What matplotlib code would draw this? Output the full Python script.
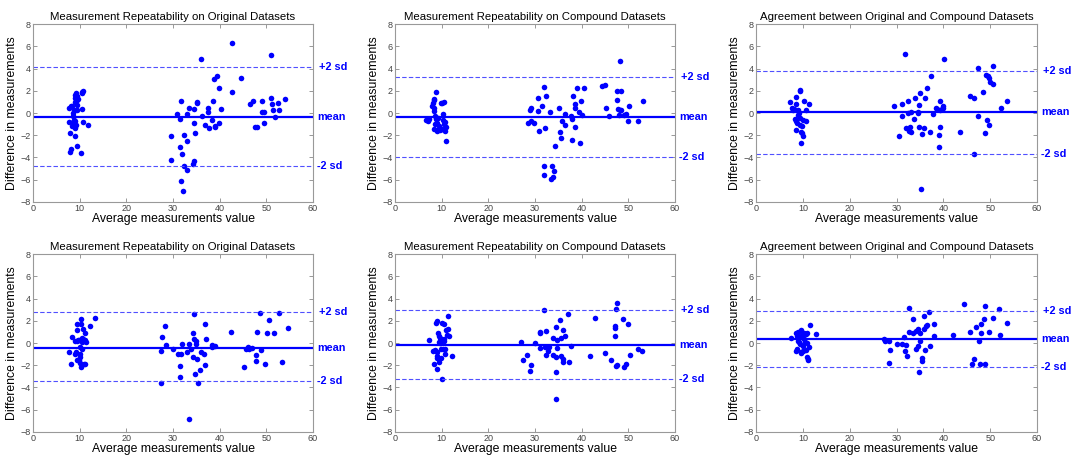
import matplotlib
matplotlib.use("Agg")
import matplotlib.pyplot as plt

plt.rcParams['font.family'] = ['Liberation Sans', 'DejaVu Sans']

titles = ["Measurement Repeatability on Original Datasets",
          "Measurement Repeatability on Compound Datasets",
          "Agreement between Original and Compound Datasets",
          "Measurement Repeatability on Original Datasets",
          "Measurement Repeatability on Compound Datasets",
          "Agreement between Original and Compound Datasets"]

# Panel 1 (top left)
p1_x = [8.1, 8.4, 7.7, 9.1, 9.1, 9.0, 9.2, 9.4, 9.6, 9.4, 10.4, 10.6, 10.7, 10.4, 9.4, 8.7, 8.5,
        7.7, 8.6, 9.0, 10.7, 11.7, 8.4, 9.0, 9.2, 7.9, 8.9, 8.2, 8.0, 9.4, 10.3, 8.6, 8.8, 9.4,
        29.6, 29.6, 30.9, 31.4, 31.8, 31.4, 31.9, 31.8, 32.2, 32.4, 32.4, 33.0, 33.0, 32.9, 33.4,
        34.6, 34.6, 34.7, 34.3, 34.6, 35.1, 35.1, 35.9, 36.2, 36.9, 37.5, 37.6, 37.7, 38.3, 38.6,
        38.7, 38.9, 39.0, 39.4, 39.8, 39.9, 40.3, 42.6, 42.7, 44.6,
        46.4, 47.1, 47.5, 48.1, 49.1, 49.1, 49.4, 49.5, 50.9, 51.1, 51.3, 51.4, 51.9, 52.6, 52.7, 54.1]
p1_y = [0.6, 0.6, 0.5, 1.0, 1.4, 1.6, 1.8, 1.2, 1.3, 1.5, 1.8, 1.9, 1.95, 0.35, 0.3, 0.3, 0.0,
        -0.85, -0.8, -0.7, -0.77, -1.07, -1.2, -1.35, -1.1, -1.8, -2.05, -3.25, -3.5, -3.0, -3.6, -0.3, -0.6, 0.7,
        -2.05, -4.25, -0.1, -0.5, 1.05, -3.1, -3.7, -6.15, -7.0, -2.0, -4.8, -2.5, -5.15, -0.1, 0.5,
        0.4, -0.9, -1.8, -4.6, -4.3, 1.0, 0.9, 4.9, -0.25, -1.05, 0.5, 0.05, -1.35, -0.6, 1.1,
        3.1, -1.15, -1.3, 3.3, 2.3, -0.9, 0.4, 1.9, 6.3, 3.2,
        0.85, 1.1, -1.3, -1.25, 1.1, 0.1, 0.1, -0.9, 1.4, 5.2, 0.8, 0.25, -0.4, 0.95, 0.3, 1.25]

# Panel 2 (top middle)
p2_x = [6.6, 7.0, 7.3, 7.9, 8.1, 8.3, 8.4, 8.3, 8.4, 8.7, 8.6, 8.8, 8.4, 8.9, 9.1, 9.3, 9.5, 9.7,
        9.9, 10.1, 10.3, 10.6, 10.2, 10.4, 10.0, 10.8, 10.9, 10.7, 10.9, 9.1, 8.6,
        28.9, 29.1, 28.6, 29.2, 29.8, 30.7, 30.9, 30.7, 31.4, 31.9, 31.9, 32.0, 32.4, 32.1, 33.2,
        33.6, 33.4, 33.8, 34.1, 34.2, 35.1, 35.4, 35.5, 35.7, 36.4, 36.4, 37.7, 37.9, 37.9, 38.2,
        38.6, 38.6, 38.6, 39.1, 39.5, 39.6, 39.9, 40.1, 40.6,
        44.3, 44.9, 45.3, 45.8, 47.5, 47.6, 47.7, 48.2, 48.2, 48.4, 48.5, 48.1, 49.0, 49.5, 49.9,
        50.1, 52.1, 53.1]
p2_y = [-0.6, -0.7, -0.5, 0.65, 0.9, 1.2, 1.3, 0.5, 0.15, 1.9, -0.3, -0.55, -1.4, -1.5, -0.9,
        -0.45, -1.2, -1.55, 0.9, 0.95, -0.1, 1.0, -0.6, -1.0, -1.4, -0.8, -1.3, -1.6, -2.55, -1.6, -1.0,
        0.25, 0.5, -0.9, -0.7, -0.9, 1.4, -1.6, 0.2, 0.65, -4.8, -5.6, 2.35, 1.55, -1.35, 0.1,
        -4.8, -5.95, -5.75, -5.2, -2.95, 0.45, -1.75, -2.25, -0.75, -0.1, -1.05, -0.3, -0.5, -2.4, 1.5,
        0.8, 0.5, -1.3, 2.25, 0.1, -2.7, 1.1, -0.15, 2.25,
        2.4, 2.55, 0.45, -0.3, 1.95, 1.2, 0.35, 4.7, 0.3, 2.0, 0.25, -0.15, -0.2, -0.1, -0.75,
        0.6, -0.75, 1.1]

# Panel 3 (top right)
p3_x = [7.3, 7.7, 8.2, 8.5, 8.6, 8.3, 8.5, 8.7, 8.5, 8.9, 9.2, 9.5, 9.5, 9.3, 9.5, 9.6, 9.7, 9.9,
        9.95, 9.9, 10.3, 10.6, 10.6, 11.4, 10.1, 8.0, 9.0,
        29.4, 30.6, 31.1, 31.2, 31.9, 32.1, 32.4, 32.4, 32.6, 32.9, 33.1, 33.2, 33.7, 33.9, 34.5,
        34.6, 34.7, 34.9, 35.0, 35.5, 35.3, 35.9, 36.1, 36.6, 37.1, 37.3, 37.7, 38.4, 38.7, 39.0,
        39.1, 39.2, 39.3, 39.3, 39.7, 40.0, 40.0, 40.2,
        43.5, 45.8, 46.5, 46.5, 47.3, 47.5, 48.5, 49.0, 49.2, 49.5, 49.7, 49.3, 49.7, 49.9, 50.5,
        50.6, 52.4, 53.5]
p3_y = [1.0, 0.5, 0.35, 0.8, 1.45, -0.5, -0.7, -0.9, -1.55, 0.3, 0.0, 1.95, 2.05, -0.45, -1.05,
        -2.7, -1.7, -1.8, -2.1, -1.2, 1.05, 0.25, -0.7, 0.8, -0.6, 0.3, -0.2,
        0.65, -2.1, 0.8, -0.3, 5.35, -1.35, 1.05, 0.0, -1.6, -1.3, 0.1, -1.75, -0.55, 1.35, 0.0,
        0.1, -1.25, 0.75, 1.8, -1.9, -6.85, -1.35, 1.4, 2.25, -1.7, 3.3, -0.1, 0.45, 0.4, -3.05,
        -1.95, -1.25, 1.05, 0.3, 0.4, 0.5, 0.65, 4.9,
        -1.75, 1.5, 1.4, -3.7, 4.1, -0.25, 1.9, -1.8, 3.45, 3.3, 3.15, -0.6, -1.1, 2.8, 4.25,
        2.6, 0.45, 1.05]

# Panel 4 (bottom left)
p4_x = [7.7, 8.1, 8.3, 8.9, 9.1, 9.3, 9.4, 9.5, 9.5, 9.4, 9.7, 9.9, 10.0, 10.0, 10.1, 10.1, 10.2,
        10.3, 10.3, 10.4, 10.4, 10.6, 10.7, 10.8, 10.9, 11.1, 11.1, 11.1, 11.3, 12.3, 13.2, 9.8,
        27.4, 27.5, 27.7, 28.3, 28.6, 29.9, 31.1, 31.6, 31.6, 31.8, 31.9, 33.0, 33.4, 33.8, 33.4,
        34.3, 34.3, 34.6, 34.6, 34.9, 35.0, 34.8, 35.1, 35.4, 35.7, 36.1, 36.6, 36.9, 36.9, 37.1,
        38.4, 38.4, 38.9, 42.4,
        45.3, 45.7, 46.1, 46.3, 46.9, 47.7, 47.7, 47.9, 48.6, 48.8, 49.7, 50.1, 50.5, 51.6, 52.7,
        53.4, 54.6]
p4_y = [-0.85, -1.9, 0.55, 0.2, -0.95, -0.8, 0.2, 1.7, 1.15, -1.55, 0.25, -1.55, -0.4, -1.0, -1.25,
        -1.8, 2.15, 1.7, -2.2, 0.1, -0.5, 0.45, 1.25, 0.35, -1.9, 0.95, -1.9, 0.25, 0.1, 1.5, 2.3, 0.3,
        -3.6, -0.75, 0.55, 1.5, -0.2, -0.5, -0.95, -2.1, -3.1, -1.0, -0.1, -0.8, -0.05, -0.5, -6.85,
        0.95, -1.3, 2.6, 0.35, 0.2, -0.1, -2.8, -1.45, -3.6, -2.45, -0.85, -1.0, 1.7, -2.0, 0.35,
        -0.15, -0.4, -0.3, 1.0,
        -2.15, -0.5, -0.35, -0.55, -0.45, -1.1, -1.65, 1.0, 2.75, -0.6, -1.85, 0.9, 2.1, 0.9, 2.7,
        -1.7, 1.35]

# Panel 5 (bottom middle)
p5_x = [7.3, 8.1, 8.4, 8.6, 8.8, 8.9, 8.9, 8.9, 9.0, 9.1, 9.3, 9.4, 9.4, 9.5, 9.6, 9.7, 9.8, 9.9,
        10.0, 10.0, 10.1, 10.2, 10.4, 10.4, 10.6, 10.7, 10.8, 10.9, 11.1, 11.3, 11.4, 11.6, 12.2,
        27.1, 27.5, 28.3, 29.0, 29.1, 30.0, 31.1, 31.1, 31.1, 32.0, 32.1, 32.4, 32.4, 32.8, 33.1,
        33.8, 33.9, 34.4, 34.5, 34.6, 34.6, 34.8, 34.8, 35.4, 35.5, 35.6, 36.1, 36.1, 36.1, 36.4,
        37.1, 37.2, 37.7,
        41.7, 42.8, 44.9, 46.2, 47.1, 47.2, 47.2, 47.3, 47.4, 47.5, 47.6, 48.8, 49.1, 49.5, 49.9,
        50.4, 52.0, 52.9]
p5_y = [0.25, -0.75, -1.9, -0.65, 1.8, -0.8, -1.15, -1.35, -2.35, 2.0, 0.95, 0.65, 0.05, -1.7, 0.5,
        0.0, -1.35, -0.5, 0.25, -3.25, 1.85, -0.5, 0.2, 1.7, 0.35, -0.5, -0.95, 1.2, 0.75, 1.25, 2.45,
        0.65, -1.2,
        0.1, -1.5, -1.05, -2.5, -1.95, 0.0, 1.0, 0.9, -0.45, 2.95, -0.4, 1.05, -1.1, -0.75, -0.35,
        0.45, -1.05, -1.25, 1.45, -2.65, -5.0, 0.25, -0.45, 2.05, 0.45, -1.15, -1.4, 1.15, -1.75, 0.65,
        2.6, -1.7, -0.25,
        -1.15, 2.25, -0.9, -1.5, 1.4, 1.5, 0.65, 3.1, -2.1, -2.0, 3.65, 2.2, -2.15, -1.85, 1.75,
        -1.1, -0.55, -0.7]

# Panel 6 (bottom right)
p6_x = [7.5, 8.6, 8.6, 8.7, 8.8, 8.95, 9.0, 9.2, 9.4, 9.5, 9.6, 9.7, 9.7, 9.9, 9.95, 10.1, 10.2,
        10.3, 10.4, 10.6, 10.7, 10.9, 10.8, 10.9, 11.1, 11.2, 11.4, 11.6, 12.9,
        27.4, 27.6, 28.3, 28.4, 28.7, 30.0, 31.1, 31.5, 31.8, 32.0, 32.3, 32.6, 32.6, 33.5, 33.5,
        34.2, 34.1, 34.5, 34.5, 34.9, 35.0, 35.0, 35.4, 35.4, 35.8, 35.8, 36.1, 36.2, 36.5, 37.0,
        37.1, 38.0, 38.1,
        42.0, 44.4, 45.6, 46.2, 46.5, 47.0, 47.6, 47.9, 48.0, 48.1, 48.6, 48.8, 49.0, 49.7, 50.6,
        51.9, 52.2, 53.7]
p6_y = [0.5, 0.95, -0.75, -0.55, 0.65, 0.15, 1.0, 0.1, 0.55, -0.1, 1.2, -0.8, -0.9, 0.7, -0.3,
        -0.7, 0.4, 0.9, 0.1, -0.6, 0.85, 0.95, 0.0, -1.25, -1.55, -1.45, -0.4, 1.6, 0.85,
        0.35, 0.2, -1.8, 0.2, -0.65, -0.1, -0.05, 0.55, -0.75, -0.2, -1.15, 1.0, 3.15, 0.9, 2.15,
        1.1, -0.5, 1.3, -0.3, -2.65, 0.2, 0.9, -1.35, -1.6, 2.45, 1.3, -0.65, 1.55, 1.65, 2.8,
        -0.25, 1.7, 0.6,
        0.7, 3.5, 1.0, -1.85, -1.4, 1.45, 0.2, -1.85, 1.75, 0.95, 2.15, 3.3, -1.85, 1.0, 2.25,
        3.05, 0.75, 1.8]

means = [-0.35, -0.38, 0.05, -0.42, -0.15, 0.33]
upper = [4.13, 3.26, 3.8, 2.77, 2.95, 2.9]
lower = [-4.73, -4.0, -3.65, -3.43, -3.22, -2.15]

xs = [p1_x, p2_x, p3_x, p4_x, p5_x, p6_x]
ys = [p1_y, p2_y, p3_y, p4_y, p5_y, p6_y]

W, H = 1075, 457
fig = plt.figure(figsize=(W / 100, H / 100), dpi=100)

lefts = [33, 395, 756]
widths = [280, 280, 281]
tops = [24.3, 254.3]
axh = 177.5

blue = '#0000ff'
for i in range(6):
    r, c = divmod(i, 3)
    l = lefts[c] / W
    b = (H - tops[r] - axh) / H
    ax = fig.add_axes([l, b, widths[c] / W, axh / H])
    ax.plot(xs[i], ys[i], 'o', color=blue, markersize=4.0, markeredgewidth=0)
    ax.axhline(means[i], color=blue, lw=1.6)
    ax.axhline(upper[i], color='#5050ff', lw=0.8, ls=(0, (4, 2)))
    ax.axhline(lower[i], color='#5050ff', lw=0.8, ls=(0, (4, 2)))
    ax.set_xlim(0, 60)
    ax.set_ylim(-8, 8)
    ax.set_xticks(range(0, 61, 10))
    ax.set_yticks(range(-8, 9, 2))
    ax.tick_params(direction='in', length=3, width=0.6, color='#888888',
                   labelsize=6.5, labelcolor='#444444', top=True, right=True, pad=1.5)
    for s in ax.spines.values():
        s.set_color('#999999')
        s.set_linewidth(0.8)
    ax.set_title(titles[i], fontsize=8.2, pad=3)
    ax.set_xlabel('Average measurements value', fontsize=8.8, labelpad=0)
    ax.set_ylabel('Difference in measurements', fontsize=8.8, labelpad=2)
    tr = ax.get_yaxis_transform()
    ax.text(1.02, upper[i], '+2 sd', transform=tr, color=blue, fontsize=7.8,
            fontweight='bold', va='center', ha='left', clip_on=False)
    ax.text(1.015, means[i], 'mean', transform=tr, color=blue, fontsize=7.8,
            fontweight='bold', va='center', ha='left', clip_on=False)
    ax.text(1.015, lower[i], '-2 sd', transform=tr, color=blue, fontsize=7.8,
            fontweight='bold', va='center', ha='left', clip_on=False)

fig.savefig('out.png', dpi=100)
